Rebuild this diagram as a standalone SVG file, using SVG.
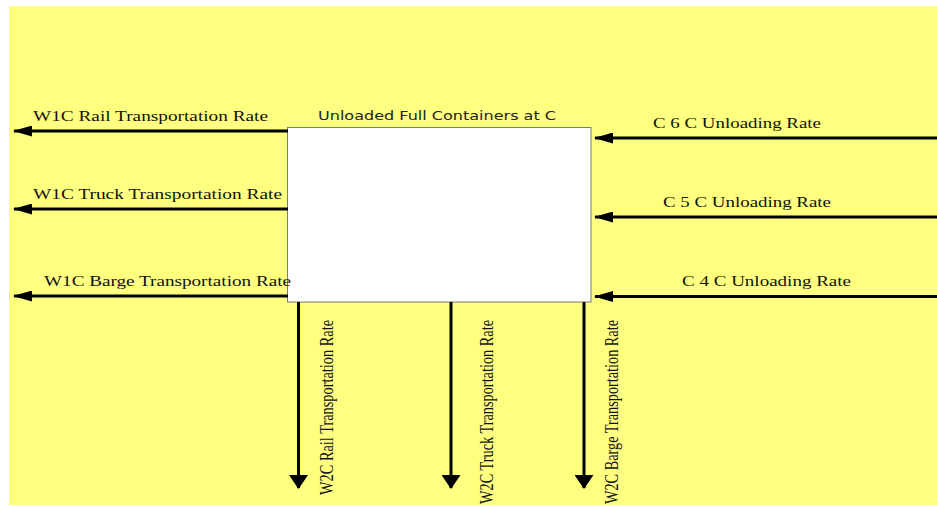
<svg xmlns="http://www.w3.org/2000/svg" width="937" height="507" viewBox="0 0 937 507">
<style>
.bg{fill:#ffff80}
.box{fill:#ffffff;stroke:#7a7a7a;stroke-width:1}
.ln{stroke:#000;stroke-width:3;fill:none}
.lbl{font-family:"Liberation Serif","Times New Roman",serif;font-size:14px;fill:#111}
.vl{font-family:"Liberation Serif","Times New Roman",serif;font-size:19px;fill:#111}
.ttl{font-family:"DejaVu Sans","Liberation Sans",sans-serif;font-size:11.5px;fill:#222}
</style>
<defs>
<marker id="ah" viewBox="0 0 19 11" refX="18" refY="5.5" markerWidth="19" markerHeight="11" markerUnits="userSpaceOnUse" orient="auto">
<path d="M0,0 L19,5.5 L0,11 z" fill="#000"/>
</marker>
<marker id="av" viewBox="0 0 14 19" refX="13" refY="9.5" markerWidth="14" markerHeight="19" markerUnits="userSpaceOnUse" orient="auto">
<path d="M0,0 L14,9.5 L0,19 z" fill="#000"/>
</marker>
</defs>
<rect class="bg" x="9" y="6" width="928" height="499"/>
<g id="node-unloaded">
<rect class="box" x="287.5" y="127.5" width="303.5" height="174.5"/>
<text class="ttl" x="318" y="120" textLength="238" lengthAdjust="spacingAndGlyphs">Unloaded Full Containers at C</text>
</g>
<g id="connectors">
<line class="ln" x1="288" y1="131" x2="14" y2="131" marker-end="url(#ah)"/>
<line class="ln" x1="288" y1="209" x2="14" y2="209" marker-end="url(#ah)"/>
<line class="ln" x1="288" y1="296" x2="14" y2="296" marker-end="url(#ah)"/>
<line class="ln" x1="937" y1="138" x2="595" y2="138" marker-end="url(#ah)"/>
<line class="ln" x1="937" y1="217" x2="595" y2="217" marker-end="url(#ah)"/>
<line class="ln" x1="937" y1="296.5" x2="595" y2="296.5" marker-end="url(#ah)"/>
<line class="ln" x1="298.5" y1="302" x2="298.5" y2="488" marker-end="url(#av)"/>
<line class="ln" x1="451" y1="302" x2="451" y2="488" marker-end="url(#av)"/>
<line class="ln" x1="584" y1="302" x2="584" y2="488" marker-end="url(#av)"/>
</g>
<g id="labels-out-left">
<text class="lbl" x="33" y="120.5" textLength="235" lengthAdjust="spacingAndGlyphs">W1C Rail Transportation Rate</text>
<text class="lbl" x="33" y="199" textLength="249" lengthAdjust="spacingAndGlyphs">W1C Truck Transportation Rate</text>
<text class="lbl" x="44" y="286" textLength="247" lengthAdjust="spacingAndGlyphs">W1C Barge Transportation Rate</text>
</g>
<g id="labels-in-right">
<text class="lbl" x="653" y="127.5" textLength="168" lengthAdjust="spacingAndGlyphs">C 6 C Unloading Rate</text>
<text class="lbl" x="663" y="206.5" textLength="168" lengthAdjust="spacingAndGlyphs">C 5 C Unloading Rate</text>
<text class="lbl" x="682" y="285.5" textLength="169" lengthAdjust="spacingAndGlyphs">C 4 C Unloading Rate</text>
</g>
<g id="labels-out-down">
<text class="vl" transform="translate(333,495) rotate(-90)" x="0" y="0" textLength="175" lengthAdjust="spacingAndGlyphs">W2C Rail Transportation Rate</text>
<text class="vl" transform="translate(493,504) rotate(-90)" x="0" y="0" textLength="184" lengthAdjust="spacingAndGlyphs">W2C Truck Transportation Rate</text>
<text class="vl" transform="translate(618,504) rotate(-90)" x="0" y="0" textLength="184" lengthAdjust="spacingAndGlyphs">W2C Barge Transportation Rate</text>
</g>
</svg>
